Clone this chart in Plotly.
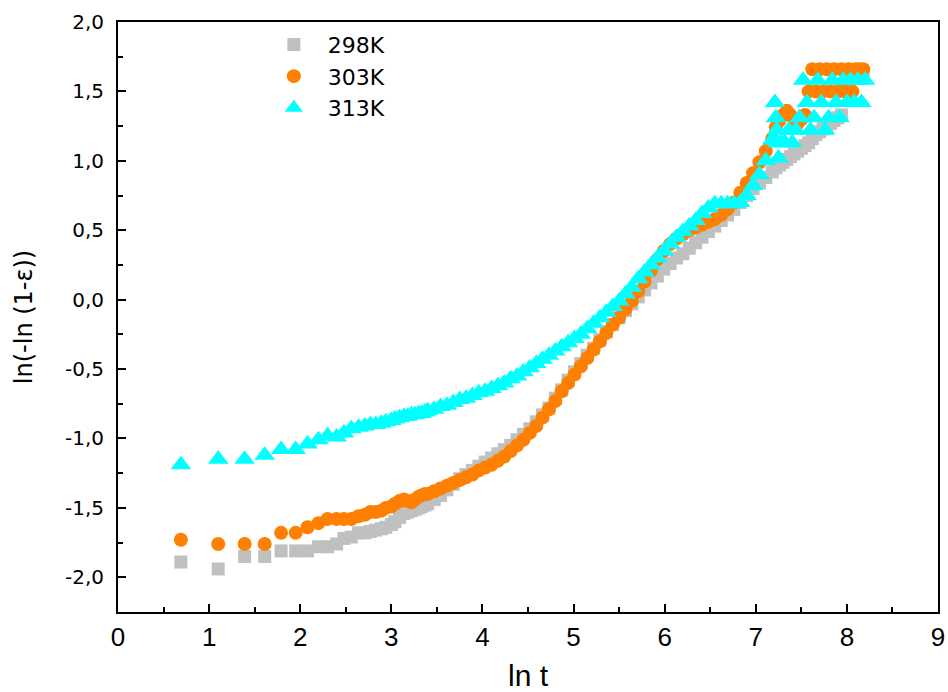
import plotly.graph_objects as go

# ln t values shared by all series (up to the knee)
ln_t = [0.69, 1.10, 1.39, 1.61, 1.79, 1.95, 2.08, 2.20, 2.30, 2.40, 2.48, 2.56, 2.64, 2.71, 2.77,
        2.83, 2.89, 2.94, 3.00, 3.04, 3.09, 3.14, 3.18, 3.22, 3.26, 3.30, 3.33, 3.37, 3.40,
        3.47, 3.54, 3.61, 3.68, 3.75, 3.82, 3.89, 3.96, 4.03, 4.10, 4.17, 4.24, 4.31, 4.38,
        4.45, 4.52, 4.59, 4.66, 4.73, 4.80, 4.87, 4.94, 5.01, 5.08, 5.15, 5.22, 5.29, 5.36,
        5.43, 5.50, 5.57, 5.64, 5.71, 5.78, 5.85, 5.92, 5.99, 6.06, 6.13, 6.20, 6.27, 6.34,
        6.41, 6.48, 6.55, 6.62, 6.69, 6.76, 6.83, 6.90, 6.97, 7.04, 7.11, 7.18]

y_298K = [-1.89, -1.94, -1.85, -1.85, -1.81, -1.81, -1.81, -1.78, -1.78, -1.76, -1.72, -1.71, -1.68, -1.68, -1.67,
          -1.66, -1.65, -1.64, -1.62, -1.60, -1.57, -1.54, -1.53, -1.52, -1.51, -1.50, -1.49, -1.48, -1.47,
          -1.44, -1.41, -1.37, -1.33, -1.29, -1.26, -1.23, -1.20, -1.17, -1.14, -1.11, -1.08, -1.05, -1.01,
          -0.97, -0.93, -0.88, -0.83, -0.78, -0.71, -0.65, -0.58, -0.52, -0.46, -0.40, -0.35, -0.29, -0.23,
          -0.18, -0.13, -0.08, -0.03, 0.02, 0.07, 0.12, 0.17, 0.22, 0.26, 0.30, 0.33, 0.37, 0.41,
          0.45, 0.49, 0.53, 0.57, 0.61, 0.65, 0.70, 0.75, 0.80, 0.84, 0.88, 0.92]

y_303K = [-1.73, -1.76, -1.76, -1.76, -1.68, -1.68, -1.64, -1.61, -1.58, -1.58, -1.58, -1.58, -1.56, -1.55, -1.53,
          -1.53, -1.52, -1.50, -1.49, -1.47, -1.45, -1.44, -1.45, -1.46, -1.44, -1.42, -1.41, -1.40, -1.40,
          -1.38, -1.36, -1.34, -1.32, -1.30, -1.28, -1.26, -1.23, -1.21, -1.19, -1.16, -1.13, -1.09, -1.05,
          -1.01, -0.96, -0.91, -0.85, -0.79, -0.73, -0.66, -0.60, -0.54, -0.48, -0.42, -0.36, -0.30, -0.24,
          -0.18, -0.13, -0.07, -0.01, 0.06, 0.13, 0.21, 0.29, 0.35, 0.40, 0.44, 0.47, 0.50, 0.52,
          0.54, 0.56, 0.58, 0.61, 0.65, 0.70, 0.77, 0.84, 0.91, 0.99, 1.07, 1.16]

y_313K = [-1.19, -1.15, -1.15, -1.12, -1.08, -1.08, -1.04, -1.01, -0.98, -0.99, -0.96, -0.93, -0.92, -0.91, -0.90,
          -0.90, -0.89, -0.88, -0.87, -0.86, -0.85, -0.84, -0.84, -0.83, -0.83, -0.82, -0.82, -0.81, -0.80,
          -0.79, -0.77, -0.76, -0.74, -0.72, -0.71, -0.69, -0.67, -0.66, -0.64, -0.62, -0.60, -0.57, -0.55,
          -0.52, -0.49, -0.46, -0.43, -0.40, -0.37, -0.34, -0.31, -0.28, -0.25, -0.21, -0.17, -0.13, -0.09,
          -0.05, -0.01, 0.04, 0.09, 0.15, 0.20, 0.25, 0.30, 0.35, 0.40, 0.45, 0.49, 0.53, 0.57,
          0.62, 0.66, 0.69, 0.69, 0.69, 0.69, 0.70, 0.75, 0.82, 0.90, 1.00, 1.15]

# late-time (plateau) points, per series
x_298K_tail = [7.22, 7.26, 7.30, 7.34, 7.38, 7.42, 7.46, 7.50, 7.54, 7.58, 7.62, 7.66, 7.70,
               7.74, 7.78, 7.82, 7.86, 7.90, 7.94, 7.98, 8.02, 8.06, 8.10, 8.14, 8.18]
y_298K_tail = [0.95, 0.97, 0.99, 1.01, 1.03, 1.05, 1.07, 1.09, 1.11, 1.13, 1.16, 1.19, 1.21,
               1.23, 1.25, 1.27, 1.29, 1.31, 1.33, 1.50, 1.55, 1.60, 1.62, 1.62, 1.62]

x_303K_tail = [7.22, 7.26, 7.30, 7.34, 7.38, 7.42, 7.46, 7.50, 7.54, 7.58, 7.62, 7.66, 7.70,
               7.74, 7.78, 7.82, 7.86, 7.90, 7.94, 7.98, 8.02, 8.06, 8.10, 8.14, 8.18]
y_303K_tail = [1.24, 1.29, 1.33, 1.36, 1.33, 1.30, 1.27, 1.30, 1.33, 1.50, 1.66, 1.50, 1.66,
               1.50, 1.66, 1.50, 1.66, 1.50, 1.66, 1.50, 1.66, 1.50, 1.66, 1.66, 1.66]

x_313K_tail = [7.21, 7.22, 7.23, 7.24, 7.25, 7.28, 7.32, 7.36, 7.40, 7.44, 7.48, 7.52, 7.56, 7.60,
               7.64, 7.68, 7.72, 7.76, 7.80, 7.84, 7.88, 7.92, 7.96, 8.00, 8.04, 8.08, 8.12, 8.16, 8.20]
y_313K_tail = [1.42, 1.31, 1.22, 1.13, 1.02, 1.13, 1.13, 1.22, 1.13, 1.22, 1.31, 1.58, 1.42, 1.22,
               1.31, 1.58, 1.42, 1.22, 1.31, 1.58, 1.42, 1.31, 1.58, 1.42, 1.58, 1.42, 1.58, 1.42, 1.58]

y_tickvals = [-2.0, -1.5, -1.0, -0.5, 0.0, 0.5, 1.0, 1.5, 2.0]
y_ticktext = ["-2,0", "-1,5", "-1,0", "-0,5", "0,0", "0,5", "1,0", "1,5", "2,0"]
x_tickvals = [0, 1, 2, 3, 4, 5, 6, 7, 8, 9]

narrow = "Liberation Sans Narrow, Arial Narrow, Liberation Sans, Arial, sans-serif"
wide = "DejaVu Sans, Verdana, sans-serif"

fig = go.Figure()
fig.add_trace(go.Scatter(x=ln_t + x_298K_tail, y=y_298K + y_298K_tail, mode="markers", name="298K",
                         marker=dict(symbol="square", size=13, color="#C0C0C0", line=dict(width=0))))
fig.add_trace(go.Scatter(x=ln_t + x_303K_tail, y=y_303K + y_303K_tail, mode="markers", name="303K",
                         marker=dict(symbol="circle", size=14, color="#FF8000", line=dict(width=0))))
fig.add_trace(go.Scatter(x=ln_t + x_313K_tail, y=y_313K + y_313K_tail, mode="markers", name="313K",
                         marker=dict(symbol="triangle-up", size=18, color="#00FFFF", line=dict(width=0))))

fig.update_layout(
    width=948, height=692,
    margin=dict(l=118, r=10, t=22, b=80, autoexpand=False),
    paper_bgcolor="white", plot_bgcolor="white",
    showlegend=True,
    legend=dict(x=0.173, y=0.997, xanchor="left", yanchor="top", itemwidth=58,
                font=dict(family=wide, size=22, color="black"),
                bgcolor="rgba(0,0,0,0)", borderwidth=0, tracegroupgap=0),
    xaxis=dict(range=[0, 9], tickvals=x_tickvals, ticks="inside", ticklen=8, tickwidth=2,
               tickcolor="black", showline=True, linewidth=2, linecolor="black", mirror=True,
               showgrid=False, zeroline=False, ticklabelstandoff=1, automargin=False,
               minor=dict(dtick=0.5, tick0=0, ticks="inside", ticklen=5, tickwidth=2, tickcolor="black"),
               tickfont=dict(family=narrow, size=26, color="black"),
               title=dict(text="ln t", font=dict(family=narrow, size=30, color="black"), standoff=18)),
    yaxis=dict(range=[-2.25, 2.0], tickvals=y_tickvals, ticktext=y_ticktext, ticks="inside",
               ticklen=8, tickwidth=2, tickcolor="black", showline=True, linewidth=2, linecolor="black",
               mirror=True, showgrid=False, zeroline=False, ticklabelstandoff=8, automargin=False,
               minor=dict(dtick=0.25, tick0=0, ticks="inside", ticklen=5, tickwidth=2, tickcolor="black"),
               tickfont=dict(family=wide, size=20, color="black"),
               title=dict(text="ln(-ln (1-ε))", font=dict(family=wide, size=24, color="black"), standoff=26)),
)

fig.write_html("out.html")
